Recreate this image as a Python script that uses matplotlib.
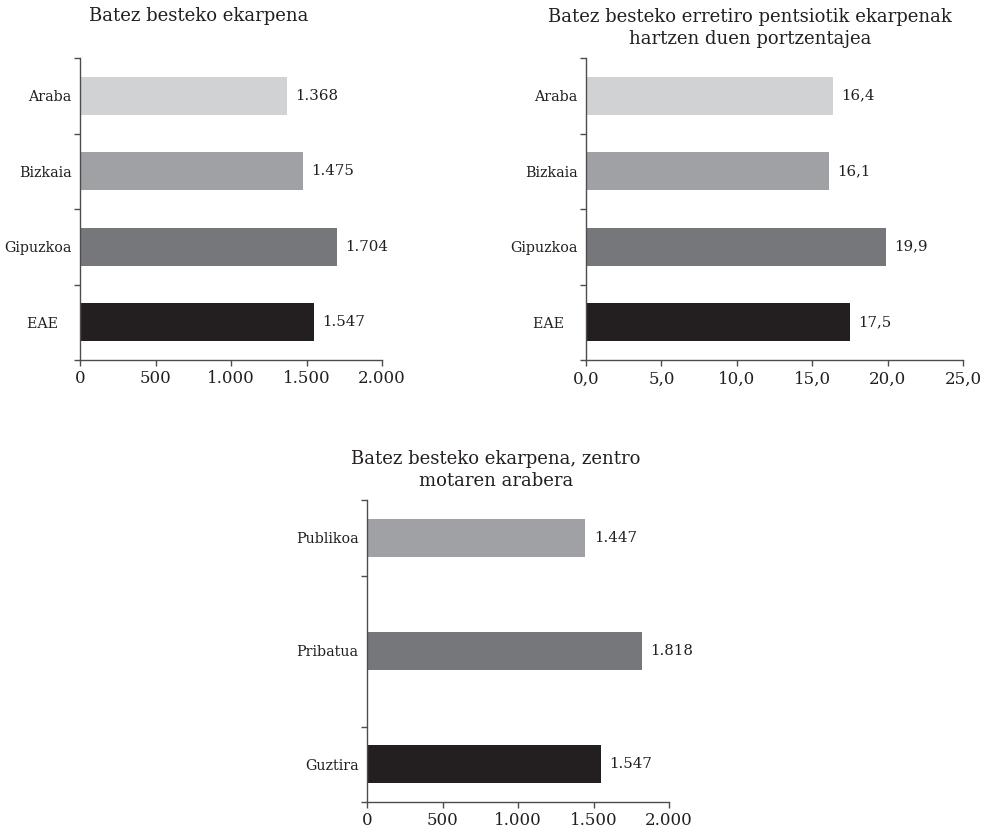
import matplotlib
matplotlib.use("Agg")
import matplotlib.pyplot as plt
from matplotlib.ticker import FuncFormatter, FixedLocator

# data
prov = ["Araba", "Bizkaia", "Gipuzkoa", "EAE"]
ekarpena = [1368, 1475, 1704, 1547]
portzentaia = [16.4, 16.1, 19.9, 17.5]

zentro = ["Publikoa", "Pribatua", "Guztira"]
ekarpena_zentro = [1447, 1818, 1547]

prov_colors = ["#d1d2d4", "#a0a1a5", "#76777b", "#231f20"]
zentro_colors = ["#a0a1a5", "#76777b", "#231f20"]

TXT = "#231f20"
AX = "#4d4d4f"

plt.rcParams["font.family"] = ["DejaVu Serif"]
plt.rcParams["font.size"] = 10.5
plt.rcParams["text.color"] = TXT


def thousands(v, pos=None):
    return f"{v:,.0f}".replace(",", ".")


def decimal(v, pos=None):
    return f"{v:.1f}".replace(".", ",")


def style_axes(ax):
    for s in ["top", "right"]:
        ax.spines[s].set_visible(False)
    for s in ["left", "bottom"]:
        ax.spines[s].set_color(AX)
        ax.spines[s].set_linewidth(1.0)
    ax.tick_params(axis="y", which="major", length=0, pad=6, colors=TXT, labelsize=10.3)
    ax.tick_params(axis="y", which="minor", length=4, width=1.0, color=AX, direction="out")
    ax.tick_params(axis="x", length=4, width=1.0, color=AX, direction="out", pad=3.5,
                   labelcolor=TXT, labelsize=12)


def hbar(ax, labels, values, colors, fmt, xmax, xstep, positions, height, slots):
    bars = ax.barh(positions, values, height=height, color=colors)
    ax.set_ylim(slots, 0)
    ax.set_xlim(0, xmax)
    ax.yaxis.set_major_locator(FixedLocator(positions))
    ax.set_yticklabels(labels)
    ax.yaxis.set_minor_locator(FixedLocator(range(slots + 1)))
    ax.set_xticks([i * xstep for i in range(int(round(xmax / xstep)) + 1)])
    ax.xaxis.set_major_formatter(FuncFormatter(fmt))
    ax.bar_label(bars, labels=[fmt(v) for v in values], padding=6, color=TXT, fontsize=10.8)
    style_axes(ax)


fig = plt.figure(figsize=(9.84, 8.32), dpi=100)
W, H = 984, 832


def add_ax(left, top, right, bottom):
    return fig.add_axes([left / W, 1 - bottom / H, (right - left) / W, (bottom - top) / H])


ax1 = add_ax(80, 58, 382, 360)
hbar(ax1, prov[:3] + ["EAE   "], ekarpena, prov_colors, thousands, 2000, 500,
     [0.5, 1.5, 2.5, 3.5], 0.5, 4)

ax2 = add_ax(586, 58, 963, 360)
hbar(ax2, prov[:3] + ["EAE   "], portzentaia, prov_colors, decimal, 25, 5,
     [0.5, 1.5, 2.5, 3.5], 0.5, 4)

ax3 = add_ax(367, 500, 669, 802)
hbar(ax3, zentro, ekarpena_zentro, zentro_colors, thousands, 2000, 500,
     [0.5, 2.0, 3.5], 0.5, 4)

fig.text(199 / W, 1 - 16 / H, "Batez besteko ekarpena", ha="center", va="center", fontsize=13)
fig.text(750 / W, 1 - 28 / H, "Batez besteko erretiro pentsiotik ekarpenak\nhartzen duen portzentajea",
         ha="center", va="center", fontsize=13, linespacing=1.3)
fig.text(496 / W, 1 - 470 / H, "Batez besteko ekarpena, zentro\nmotaren arabera",
         ha="center", va="center", fontsize=13, linespacing=1.3)

fig.savefig("out.png", dpi=100, facecolor="white")
